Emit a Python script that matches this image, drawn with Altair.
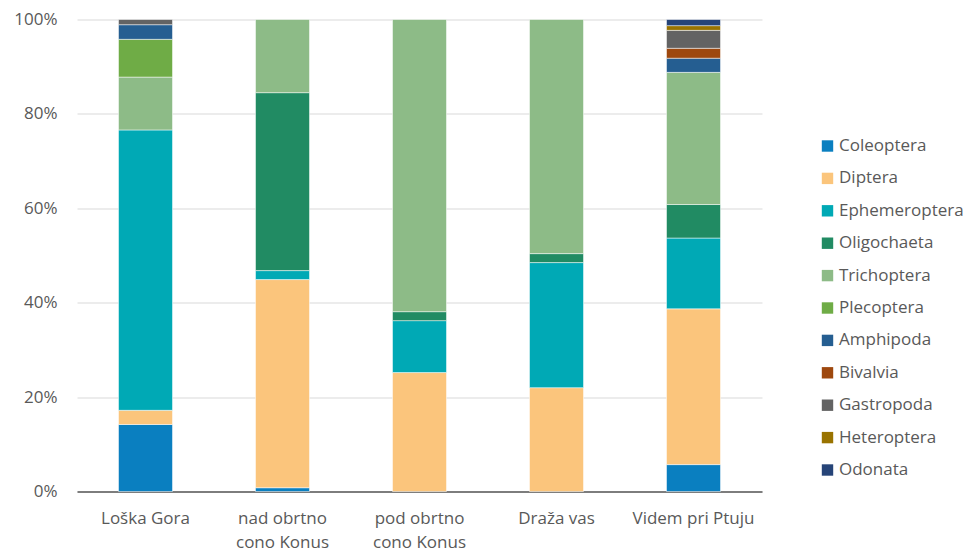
import altair as alt
import pandas as pd

# Sampling sites (x categories)
sites = ["Loška Gora", "nad obrtno cono Konus", "pod obrtno cono Konus", "Draža vas", "Videm pri Ptuju"]

# Taxa, bottom-to-top stacking order, and their colours
taxa = ["Coleoptera", "Diptera", "Ephemeroptera", "Oligochaeta", "Trichoptera", "Plecoptera",
        "Amphipoda", "Bivalvia", "Gastropoda", "Heteroptera", "Odonata"]
colors = ["#0A7FC0", "#FBC57C", "#00A9B5", "#218B63", "#8DBB87", "#6FAC46",
          "#255E91", "#9E480E", "#636363", "#997300", "#264478"]

# Share (%) of each taxon per site, in the order of `sites`
coleoptera    = [14.2, 0.8, 0.0, 0.0, 5.7]
diptera       = [3.0, 44.1, 25.2, 22.0, 33.0]
ephemeroptera = [59.4, 1.9, 11.0, 26.5, 15.0]
oligochaeta   = [0.0, 37.7, 1.9, 1.9, 7.1]
trichoptera   = [11.2, 15.5, 61.9, 49.6, 28.0]
plecoptera    = [8.0, 0.0, 0.0, 0.0, 0.0]
amphipoda     = [3.1, 0.0, 0.0, 0.0, 3.0]
bivalvia      = [0.0, 0.0, 0.0, 0.0, 2.1]
gastropoda    = [1.1, 0.0, 0.0, 0.0, 3.8]
heteroptera   = [0.0, 0.0, 0.0, 0.0, 1.0]
odonata       = [0.0, 0.0, 0.0, 0.0, 1.3]

series = [coleoptera, diptera, ephemeroptera, oligochaeta, trichoptera, plecoptera,
          amphipoda, bivalvia, gastropoda, heteroptera, odonata]

rows = []
for k, (taxon, vals) in enumerate(zip(taxa, series)):
    for site, v in zip(sites, vals):
        if v > 0:  # empty segments are not drawn
            rows.append({"site": site, "taxon": taxon, "value": v, "order": k})
df = pd.DataFrame(rows)

FONT = "Open Sans"
TEXT = "#595959"
FS = 17

chart = alt.Chart(df).mark_bar(size=54, stroke="white", strokeWidth=0.5).encode(
    x=alt.X("site:N", sort=sites, title=None,
            scale=alt.Scale(paddingInner=0, paddingOuter=0),
            axis=alt.Axis(labelAngle=0, ticks=False, labelPadding=19,
                          labelFont=FONT, labelFontSize=FS, labelColor=TEXT,
                          labelLineHeight=24, domainColor="#595959", domainWidth=1.5,
                          labelExpr="split(replace(datum.value, ' cono ', '|cono '), '|')")),
    y=alt.Y("value:Q", stack="normalize", title=None,
            scale=alt.Scale(domain=[0, 1]),
            axis=alt.Axis(format="%", values=[0, 0.2, 0.4, 0.6, 0.8, 1.0], domain=False,
                          ticks=False, labelPadding=20, gridColor="#D9D9D9", gridWidth=1,
                          labelFont=FONT, labelFontSize=FS, labelColor=TEXT)),
    color=alt.Color("taxon:N", title=None,
                    scale=alt.Scale(domain=taxa, range=colors),
                    legend=alt.Legend(orient="none", legendX=742, legendY=118,
                                      symbolType="square", symbolSize=130,
                                      symbolStrokeWidth=0, labelFont=FONT,
                                      labelFontSize=FS, labelColor=TEXT,
                                      rowPadding=14.4, labelOffset=3, padding=0)),
    order=alt.Order("order:Q", sort="ascending"),
).properties(
    width=685, height=472,
    autosize=alt.AutoSizeParams(type="none"),
    padding={"left": 77, "top": 19.5, "right": 203, "bottom": 60.5},
).configure_view(stroke=None)

chart.save("out.html", embed_options={"renderer": "svg", "actions": False})
